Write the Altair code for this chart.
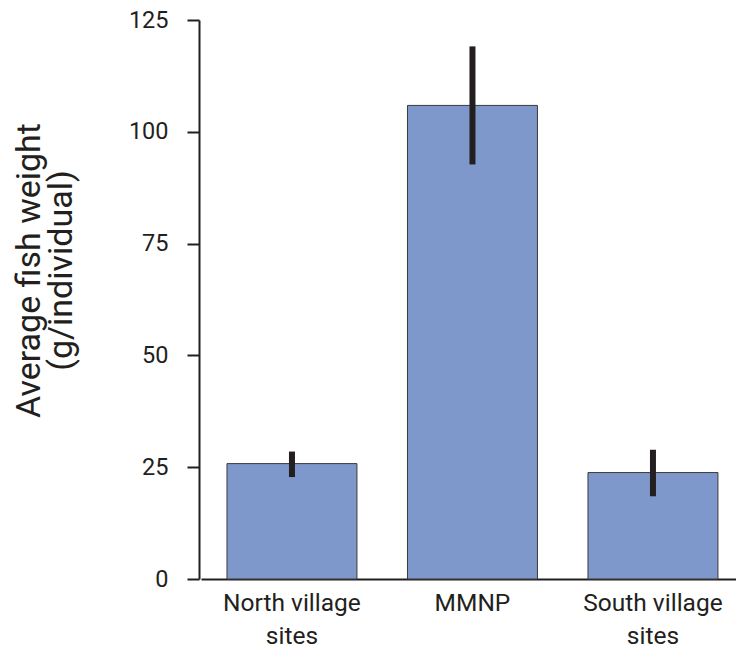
import altair as alt
import pandas as pd

sites = ["North village|sites", "MMNP", "South village|sites"]
weights = [25.8, 105.9, 23.8]
err_low = [22.8, 92.7, 18.5]
err_high = [28.5, 119.1, 28.9]

df = pd.DataFrame({"site": sites, "weight": weights, "lo": err_low, "hi": err_high})

FONT = "Roboto"
DARK = "#231f20"

x = alt.X("site:N", sort=sites, title=None,
          scale=alt.Scale(paddingInner=0.28, paddingOuter=0.122, align=0.59),
          axis=alt.Axis(labelExpr="split(datum.label, '|')", labelAngle=0,
                        labelFont=FONT, labelFontSize=24.5, labelColor=DARK,
                        labelPadding=12, labelLineHeight=33,
                        ticks=False, domainColor=DARK, domainWidth=2))

bars = alt.Chart(df).mark_bar(color="#7f98cb", stroke="#3a3a3a", strokeWidth=1).encode(
    x=x,
    y=alt.Y("weight:Q", scale=alt.Scale(domain=[0, 125], nice=False),
            title=["Average fish weight", "(g/individual)"],
            axis=alt.Axis(values=[0, 25, 50, 75, 100, 125], grid=False,
                          tickSize=12, tickColor=DARK, tickWidth=2,
                          domainColor=DARK, domainWidth=2, offset=2,
                          labelFont=FONT, labelFontSize=23.5, labelColor=DARK,
                          labelPadding=19,
                          titleFont=FONT, titleFontSize=34, titleFontWeight="normal",
                          titleColor=DARK, titleLineHeight=32,
                          titleAngle=-90, titleAlign="center", titleBaseline="middle",
                          titleX=-170, titleY=250)),
)

errs = alt.Chart(df).mark_rule(color=DARK, strokeWidth=6).encode(
    x=alt.X("site:N", sort=sites),
    y="lo:Q",
    y2="hi:Q",
)

chart = (bars + errs).properties(
    width=535, height=559,
    autosize=alt.AutoSizeParams(type="none"),
    padding={"left": 193, "top": 12, "right": 0, "bottom": 70},
).configure_view(stroke=None)

chart.save("out.html", embed_options={"renderer": "svg", "actions": False})
